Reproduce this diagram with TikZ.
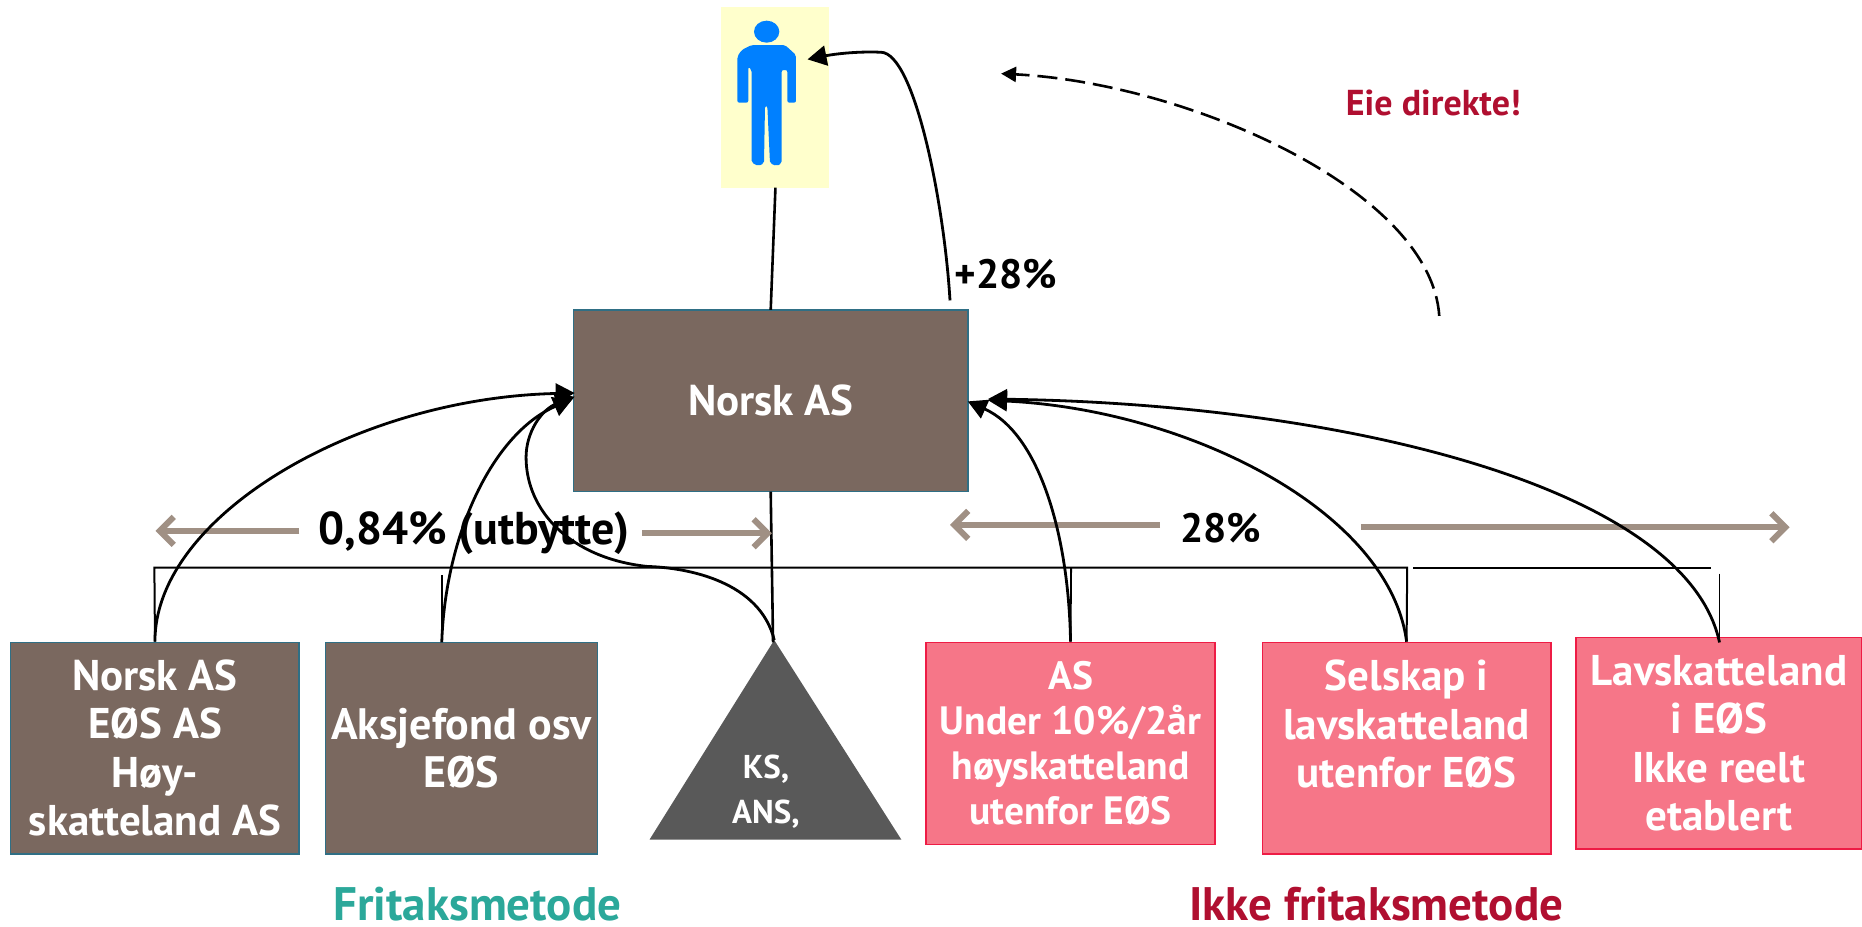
\documentclass[tikz,border=0pt]{standalone}
\usepackage{fontspec}
\setmainfont{PT Sans}
\usetikzlibrary{arrows.meta}
\definecolor{boxbrown}{HTML}{7A685F}
\definecolor{boxedge}{HTML}{2F6F85}
\definecolor{pinkfill}{HTML}{F67688}
\definecolor{pinkedge}{HTML}{EE1C45}
\definecolor{trigrey}{HTML}{595959}
\definecolor{greyarrow}{HTML}{A09084}
\definecolor{tealtext}{HTML}{2BA89A}
\definecolor{redtext}{HTML}{B00F30}
\definecolor{personblue}{HTML}{0080FF}
\definecolor{personbg}{HTML}{FFFFCC}
\tikzset{
 basebox/.style={minimum width=#1*1.1875pt,inner sep=0pt,text=white,align=center,line width=1.6pt,
   font=\fontsize{43}{48.5}\selectfont\bfseries},
 brownbox/.style={basebox=#1,draw=boxedge,fill=boxbrown},
 pinkbox/.style={basebox=#1,draw=pinkedge,fill=pinkfill},
 link/.style={line width=2.6pt,black},
 curve/.style={line width=2.8pt,black,-{Triangle[length=19pt,width=20pt]}},
 span/.style={line width=6pt,greyarrow,-{Straight Barb[length=14pt,width=28pt,line width=6pt]}},
 lab/.style={font=\fontsize{41}{44}\selectfont\bfseries,text=black,inner sep=0pt},
}
\begin{document}
\begin{tikzpicture}[x=1.1875pt,y=-1.1875pt]
\useasboundingbox (0,0) rectangle (1568,780.6);
% person
\node[fill=personbg,minimum width=91*1.1875pt,minimum height=152*1.1875pt,inner sep=0pt] (person) at (652.5,82) {};
\begin{scope}[x=1pt/3,y=-1pt/3,shift={(560*3,0)}]
\fill[personblue] (620,95) ellipse [x radius=38,y radius=33];
\fill[personblue,rounded corners=2pt] (575,135)--(675,135)--(708,165)--(708,308)--(682,308)--(682,210)--(665,210)--(665,490)--(650,498)--(630,490)--(622,318)--(615,318)--(612,490)--(595,498)--(575,488)--(575,210)--(565,200)--(565,308)--(532,308)--(532,170)--(545,150)--cycle;
\end{scope}
% boxes
\node[brownbox=332,minimum height=153*1.1875pt] (main) at (649,337.5) {Norsk AS};
\node[brownbox=243,minimum height=178*1.1875pt] (b1) at (130.5,630) {Norsk AS\\EØS AS\\Høy-\\skatteland AS};
\node[brownbox=229,minimum height=178*1.1875pt,font=\fontsize{44}{48.5}\selectfont\bfseries] (b2) at (388.5,630) {Aksjefond osv\\EØS};
\node[pinkbox=243,minimum height=170*1.1875pt,font=\fontsize{39.5}{45}\selectfont\bfseries] (p1) at (901.5,626) {AS\\Under 10\%/2år\\høyskatteland\\utenfor EØS};
\node[pinkbox=243,minimum height=178*1.1875pt] (p2) at (1184.5,630) {Selskap i\\lavskatteland\\utenfor EØS\\~};
\node[pinkbox=241,minimum height=178*1.1875pt] (p3) at (1447.5,626) {Lavskatteland\\i EØS\\Ikke reelt\\etablert};
% triangle
\coordinate (apex) at (652,539);
\fill[trigrey] (apex)--(759,707)--(547,707)--cycle;
\node[font=\fontsize{33}{45}\selectfont\bfseries,text=white,align=center,inner sep=0pt] (tri) at (645,667) {KS,\\ANS,};
% labels
\node[lab,font=\fontsize{46}{50}\selectfont\bfseries] (l84) at (399,449) {0,84\% (utbytte)};
\node[lab] (l28) at (1028,445) {28\%};
\node[lab] (lp28) at (847,231) {+28\%};
\node[font=\fontsize{36}{40}\selectfont\bfseries,text=redtext,inner sep=0pt] (eie) at (1207,87) {Eie direkte!};
\node[font=\fontsize{47}{50}\selectfont\bfseries,text=tealtext,inner sep=0pt,anchor=base] (fm) at (402,775) {Fritaksmetode};
\node[font=\fontsize{47}{50}\selectfont\bfseries,text=redtext,inner sep=0pt,anchor=base] (ifm) at (1159,775) {Ikke fritaksmetode};
% free ends
\coordinate (pm) at (653,158);
\coordinate (mp) at (649,261);
\coordinate (mb) at (649,414);
\coordinate (tt) at (651,541);
\coordinate (bl) at (130,478);
\coordinate (br) at (1185,478);
\coordinate (b2t) at (372,484);
\coordinate (b2b) at (372,541);
\coordinate (p1t) at (902,478);
\coordinate (g1) at (1190,478);
\coordinate (g2) at (1441,478);
\coordinate (p3t) at (1448,483);
\coordinate (p3b) at (1448,541);
\coordinate (a1) at (484,331);
\coordinate (a2) at (482,336);
\coordinate (a3) at (484,334);
\coordinate (a4) at (815,338);
\coordinate (a5) at (832,337);
\coordinate (a6) at (832,336);
\coordinate (c0) at (800,253);
\coordinate (c1) at (680,50);
\coordinate (d0) at (1212,266);
\coordinate (d1) at (843,62);
% straight links
\draw[link] (pm)--(mp);
\draw[link] (mb)--(tt);
\draw[link,line width=2pt] (b1.north)--(bl)--(br)--(p2.north);
\draw[link,line width=1.8pt] (b2t)--(b2b);
\draw[link,line width=1.8pt] (p1t)--(p1.north);
\draw[link,line width=2pt] (g1)--(g2);
\draw[link,line width=1.8pt] (p3t)--(p3b);
% grey span arrows
\coordinate (s1a) at (252,447); \coordinate (s1b) at (131,447);
\coordinate (s2a) at (541,449); \coordinate (s2b) at (650,449);
\coordinate (s3a) at (977,442); \coordinate (s3b) at (800,442);
\coordinate (s4a) at (1146,444); \coordinate (s4b) at (1507,444);
\draw[span] (s1a)--(s1b);
\draw[span] (s2a)--(s2b);
\draw[span] (s3a)--(s3b);
\draw[span] (s4a)--(s4b);
% curves
\draw[curve] (b1.north) .. controls (130,435) and (300,335) .. (a1);
\draw[curve] (b2b) .. controls (375,450) and (415,365) .. (a2);
\draw[curve] (apex) .. controls (640,490) and (580,478) .. (545,477) .. controls (480,470) and (443,430) .. (443,385) .. controls (443,365) and (455,345) .. (a3);
\draw[curve] (p1.north) .. controls (900,450) and (875,365) .. (a4);
\draw[curve] (p2.north) .. controls (1170,430) and (1000,345) .. (a5);
\draw[curve] (p3b) .. controls (1420,410) and (1130,340) .. (a6);
\draw[curve] (c0) .. controls (795,170) and (770,45) .. (742,44) .. controls (720,43) and (700,46) .. (c1);
\draw[line width=2.6pt,black,dash pattern=on 20pt off 8pt,-{Triangle[length=15pt,width=15pt]}] (d0) .. controls (1205,160) and (1000,70) .. (d1);
\end{tikzpicture}
\end{document}
